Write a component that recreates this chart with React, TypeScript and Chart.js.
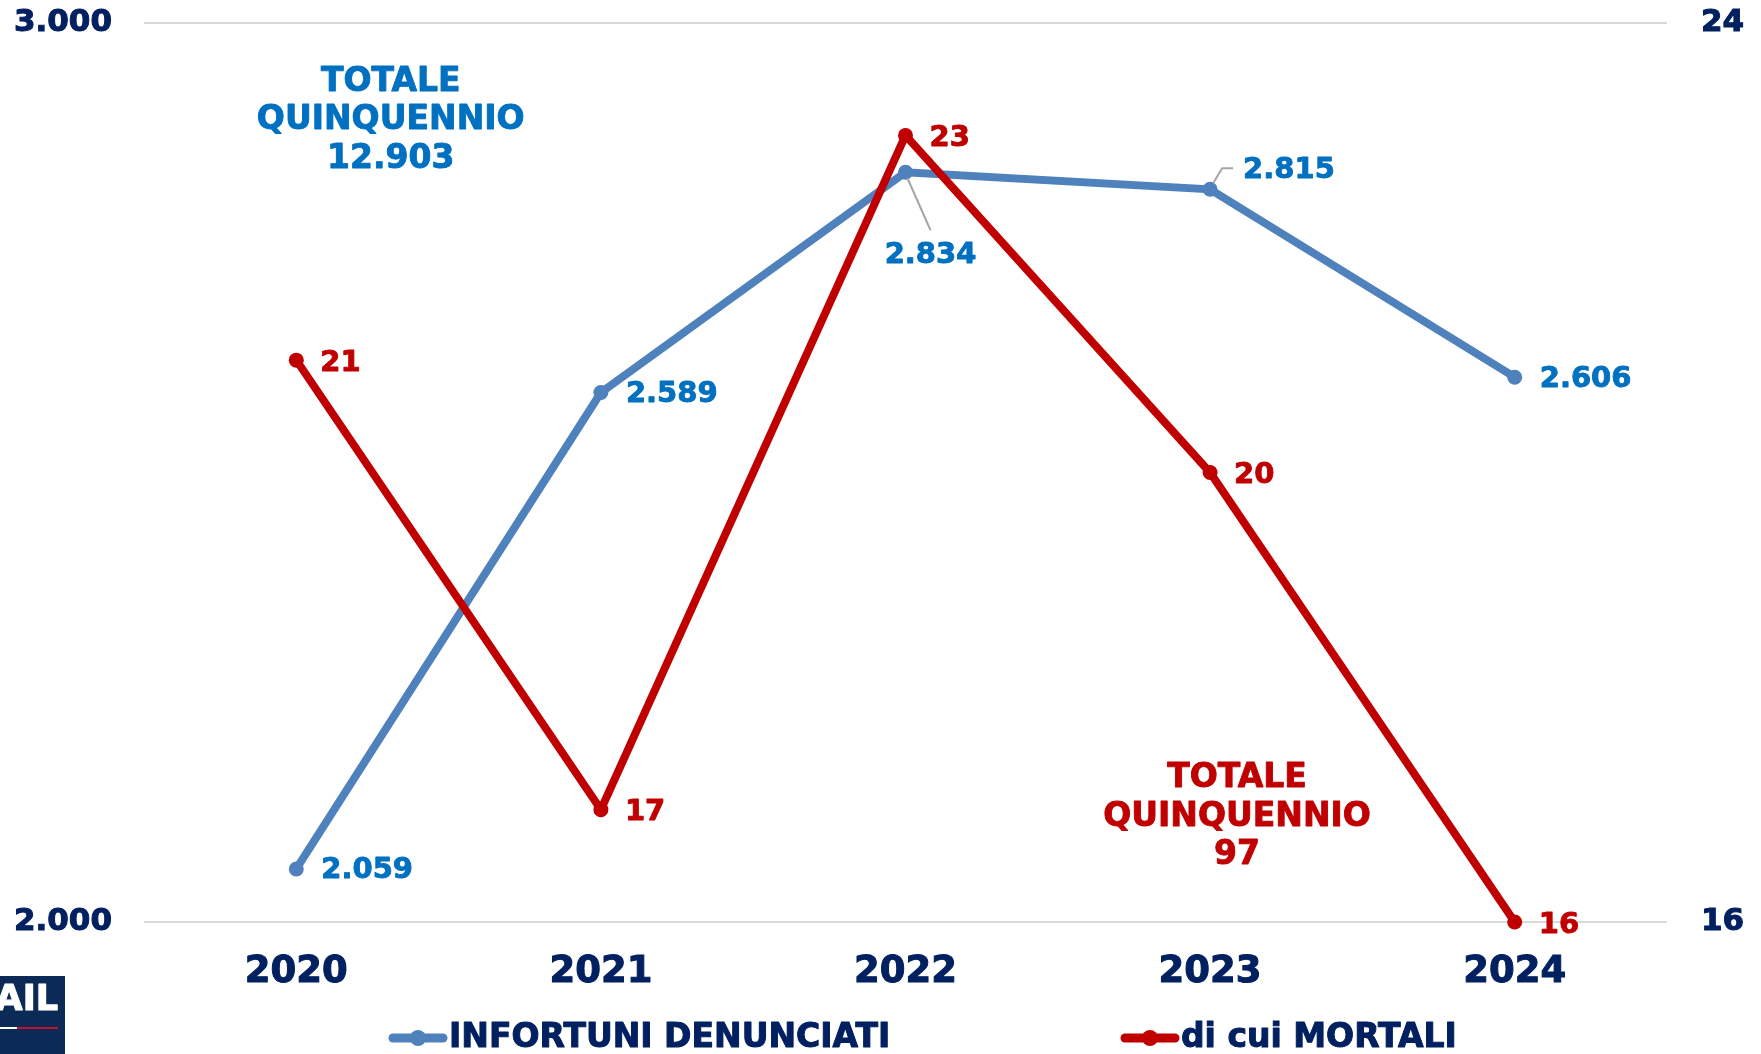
import React, { useEffect, useRef } from "react";
import { Chart, registerables } from "chart.js";

Chart.register(...registerables);

// ---------- DATA ----------
const years = ["2020", "2021", "2022", "2023", "2024"];
const infortuni = [2059, 2589, 2834, 2815, 2606];
const mortali = [21, 17, 23, 20, 16];
const leftTicks = [2000, 3000];
const rightTicks = [16, 24];
const seriesNames = ["INFORTUNI DENUNCIATI", "di cui MORTALI"];
const totalTitle = ["TOTALE", "QUINQUENNIO"];

// ---------- STYLE ----------
const FONT = "'DejaVu Sans', Verdana, sans-serif";
const NAVY = "#002060";
const BLUE_LINE = "#4F81BD";
const BLUE_TEXT = "#0070C0";
const RED = "#C00000";
const LEADER = "#A6A6A6";
const W = 1761;
const H = 1054;

// label placement per point of the blue series
const bluePlacement = ["right", "right", "below", "upRight", "right"];

const fmt = (n: number) => String(n).replace(/\B(?=(\d{3})+(?!\d))/g, ".");
const sum = (a: number[]) => a.reduce((s, v) => s + v, 0);

function boldText(ctx: CanvasRenderingContext2D, t: string, x: number, y: number, color: string, sw = 0.9) {
  ctx.fillStyle = color;
  ctx.strokeStyle = color;
  ctx.lineWidth = sw;
  ctx.lineJoin = "round";
  ctx.fillText(t, x, y);
  ctx.strokeText(t, x, y);
}

const overlayPlugin = {
  id: "overlay",
  afterDatasetsDraw(chart: any) {
    const ctx: CanvasRenderingContext2D = chart.ctx;
    const blueMeta = chart.getDatasetMeta(0);
    const redMeta = chart.getDatasetMeta(1);
    ctx.save();
    ctx.font = `bold 29px ${FONT}`;
    ctx.textBaseline = "middle";

    // blue labels
    blueMeta.data.forEach((p: any, i: number) => {
      const x = p.x;
      const y = p.y;
      const t = fmt(infortuni[i]);
      const mode = bluePlacement[i];
      if (mode === "right") {
        ctx.textAlign = "left";
        boldText(ctx, t, x + 25, y + 2, BLUE_TEXT);
      } else if (mode === "below") {
        ctx.strokeStyle = LEADER;
        ctx.lineWidth = 2;
        ctx.beginPath();
        ctx.moveTo(x + 2, y + 6);
        ctx.lineTo(x + 25, y + 58);
        ctx.stroke();
        ctx.textAlign = "center";
        boldText(ctx, t, x + 25, y + 83, BLUE_TEXT);
      } else {
        ctx.strokeStyle = LEADER;
        ctx.lineWidth = 2;
        ctx.beginPath();
        ctx.moveTo(x + 3, y - 6);
        ctx.lineTo(x + 12, y - 21);
        ctx.lineTo(x + 23, y - 21);
        ctx.stroke();
        ctx.textAlign = "left";
        boldText(ctx, t, x + 33, y - 19, BLUE_TEXT);
      }
    });

    // red labels
    redMeta.data.forEach((p: any, i: number) => {
      ctx.textAlign = "left";
      boldText(ctx, String(mortali[i]), p.x + 24, p.y + 3, RED);
    });

    // totals
    const ca = chart.chartArea;
    const cw = ca.right - ca.left;
    const ch = ca.bottom - ca.top;
    ctx.font = `bold 33px ${FONT}`;
    ctx.textAlign = "center";
    const blueLines = [...totalTitle, fmt(sum(infortuni))];
    const bx = ca.left + cw * 0.162;
    const by = ca.top + ch * 0.066;
    blueLines.forEach((l, k) => boldText(ctx, l, bx, by + k * 38.5, BLUE_TEXT));
    const redLines = [...totalTitle, fmt(sum(mortali))];
    const rx = ca.left + cw * 0.7177;
    const ry = ca.top + ch * 0.8405;
    redLines.forEach((l, k) => boldText(ctx, l, rx, ry + k * 38.5, RED));
    ctx.restore();
  },
  afterDraw(chart: any) {
    const ctx: CanvasRenderingContext2D = chart.ctx;
    ctx.save();
    // legend
    const ly = 1038;
    const items = [
      { x: 389, color: BLUE_LINE, text: seriesNames[0] },
      { x: 1121, color: RED, text: seriesNames[1] },
    ];
    items.forEach((it) => {
      ctx.strokeStyle = it.color;
      ctx.lineWidth = 9;
      ctx.lineCap = "round";
      ctx.beginPath();
      ctx.moveTo(it.x + 4, ly);
      ctx.lineTo(it.x + 54, ly);
      ctx.stroke();
      ctx.fillStyle = it.color;
      ctx.beginPath();
      ctx.arc(it.x + 29, ly, 8, 0, Math.PI * 2);
      ctx.fill();
      ctx.font = `bold 33px ${FONT}`;
      ctx.textAlign = "left";
      ctx.textBaseline = "middle";
      ctx.lineCap = "butt";
      boldText(ctx, it.text, it.x + 60, ly, NAVY, 1);
    });
    // logo fragment
    ctx.fillStyle = "#0B2A55";
    ctx.fillRect(0, 976, 65, H - 976);
    ctx.font = `bold 35px ${FONT}`;
    ctx.textAlign = "right";
    ctx.textBaseline = "alphabetic";
    boldText(ctx, "INAIL", 58, 1010, "#FFFFFF", 1.2);
    ctx.fillStyle = "#FFFFFF";
    ctx.fillRect(0, 1027, 17, 2);
    ctx.fillStyle = "#C8102E";
    ctx.fillRect(17, 1027, 41, 2);
    ctx.restore();
  },
};

export default function App() {
  const ref = useRef<HTMLCanvasElement | null>(null);

  useEffect(() => {
    if (!ref.current) return;
    const chart = new Chart(ref.current, {
      type: "line",
      data: {
        labels: years,
        datasets: [
          {
            label: seriesNames[0],
            data: infortuni,
            yAxisID: "y",
            borderColor: BLUE_LINE,
            backgroundColor: BLUE_LINE,
            borderWidth: 8,
            pointRadius: 7.5,
            pointBorderWidth: 0,
            pointBackgroundColor: BLUE_LINE,
            tension: 0,
            clip: false,
            order: 1,
          },
          {
            label: seriesNames[1],
            data: mortali,
            yAxisID: "y1",
            borderColor: RED,
            backgroundColor: RED,
            borderWidth: 8,
            pointRadius: 7.5,
            pointBorderWidth: 0,
            pointBackgroundColor: RED,
            tension: 0,
            clip: false,
            order: 0,
          },
        ],
      },
      options: {
        animation: false,
        responsive: false,
        devicePixelRatio: 1,
        layout: { padding: { top: 23, left: 0, right: 0, bottom: 0 } },
        plugins: {
          legend: { display: false },
          tooltip: { enabled: false },
          title: { display: false },
        },
        scales: {
          x: {
            offset: true,
            grid: { display: false, drawTicks: false },
            border: { display: false },
            ticks: {
              color: NAVY,
              font: { family: FONT, size: 37, weight: "bold" },
              padding: 28,
              textStrokeColor: NAVY,
              textStrokeWidth: 1,
            },
            afterFit: (s: any) => {
              s.height = 132;
              s.paddingLeft = 0;
              s.paddingRight = 0;
            },
          },
          y: {
            position: "left",
            min: leftTicks[0],
            max: leftTicks[leftTicks.length - 1],
            afterBuildTicks: (s: any) => {
              s.ticks = leftTicks.map((v) => ({ value: v }));
            },
            grid: { color: "#D9D9D9", lineWidth: 2, drawTicks: false },
            border: { display: false },
            ticks: {
              color: NAVY,
              font: { family: FONT, size: 31, weight: "bold" },
              padding: 32,
              textStrokeColor: NAVY,
              textStrokeWidth: 1,
              callback: (v: any) => fmt(Number(v)),
            },
            afterFit: (s: any) => {
              s.width = 144;
              s.paddingTop = 0;
              s.paddingBottom = 0;
            },
          },
          y1: {
            position: "right",
            min: rightTicks[0],
            max: rightTicks[rightTicks.length - 1],
            afterBuildTicks: (s: any) => {
              s.ticks = rightTicks.map((v) => ({ value: v }));
            },
            grid: { display: false, drawTicks: false },
            border: { display: false },
            ticks: {
              color: NAVY,
              font: { family: FONT, size: 31, weight: "bold" },
              padding: 34,
              textStrokeColor: NAVY,
              textStrokeWidth: 1,
            },
            afterFit: (s: any) => {
              s.width = 94;
              s.paddingTop = 0;
              s.paddingBottom = 0;
            },
          },
        },
      },
      plugins: [overlayPlugin],
    });
    return () => chart.destroy();
  }, []);

  return (
    <div
      style={{
        position: "fixed",
        left: 0,
        top: 0,
        width: W,
        height: H,
        background: "#FFFFFF",
        overflow: "hidden",
      }}
    >
      <canvas ref={ref} width={W} height={H} style={{ display: "block", width: W, height: H }} />
    </div>
  );
}
